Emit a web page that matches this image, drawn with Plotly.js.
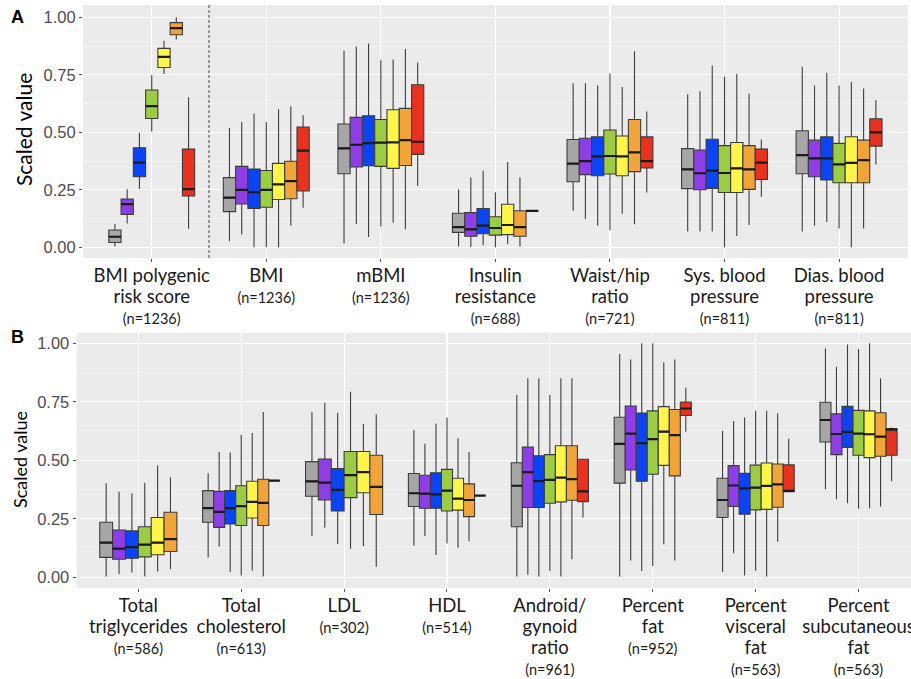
<!DOCTYPE html>
<html>
<head>
<meta charset="utf-8">
<script src="https://cdn.plot.ly/plotly-3.0.1.min.js"></script>
<style>html,body{margin:0;padding:0;background:#fff;}#chart{width:911px;height:679px;}</style>
</head>
<body>
<div id="chart"></div>
<script>
// ---------- groups ----------
const groupColors = ['#a6a6a6', '#8e3ee6', '#0a44f5', '#9ccb44', '#fdf54a', '#f0a43a', '#e6321e'];

// ---------- Panel A ----------
const catsA = ['BMI polygenic<br>risk score', 'BMI', 'mBMI', 'Insulin<br>resistance', 'Waist/hip<br>ratio', 'Sys. blood<br>pressure', 'Dias. blood<br>pressure'];
const nA = ['(n=1236)', '(n=1236)', '(n=1236)', '(n=688)', '(n=721)', '(n=811)', '(n=811)'];
// rows = categories, columns = groups (gray, purple, blue, green, yellow, orange, red)
const lowA = [
  [0.003, 0.104, 0.253, 0.503, 0.753, 0.904, 0.081],
  [0.027, 0.056, 0.000, 0.000, 0.000, 0.094, 0.172],
  [0.017, 0.101, 0.045, 0.090, 0.107, 0.078, 0.267],
  [0.004, 0.001, 0.009, 0.000, 0.014, 0.003, 0.158],
  [0.159, 0.123, 0.094, 0.074, 0.146, 0.100, 0.238],
  [0.069, 0.069, 0.069, 0.000, 0.049, 0.097, 0.220],
  [0.069, 0.094, 0.110, 0.082, 0.000, 0.082, 0.360]
];
const q1A = [
  [0.021, 0.143, 0.307, 0.560, 0.782, 0.924, 0.223],
  [0.155, 0.188, 0.169, 0.174, 0.208, 0.211, 0.245],
  [0.320, 0.349, 0.355, 0.352, 0.343, 0.356, 0.404],
  [0.065, 0.048, 0.059, 0.053, 0.055, 0.048, 0.158],
  [0.285, 0.316, 0.311, 0.319, 0.311, 0.329, 0.345],
  [0.255, 0.250, 0.256, 0.238, 0.238, 0.252, 0.295],
  [0.320, 0.307, 0.293, 0.281, 0.281, 0.281, 0.440]
];
const medA = [
  [0.046, 0.188, 0.368, 0.614, 0.828, 0.953, 0.253],
  [0.216, 0.250, 0.240, 0.250, 0.274, 0.288, 0.420],
  [0.430, 0.446, 0.453, 0.455, 0.456, 0.466, 0.459],
  [0.088, 0.078, 0.094, 0.084, 0.097, 0.088, 0.158],
  [0.364, 0.375, 0.395, 0.397, 0.395, 0.413, 0.375],
  [0.339, 0.322, 0.333, 0.323, 0.343, 0.339, 0.368],
  [0.401, 0.387, 0.387, 0.361, 0.367, 0.379, 0.500]
];
const q3A = [
  [0.075, 0.210, 0.433, 0.684, 0.865, 0.977, 0.427],
  [0.303, 0.352, 0.340, 0.334, 0.365, 0.374, 0.523],
  [0.536, 0.565, 0.572, 0.556, 0.598, 0.604, 0.707],
  [0.148, 0.151, 0.169, 0.133, 0.187, 0.159, 0.158],
  [0.469, 0.474, 0.480, 0.510, 0.484, 0.556, 0.480],
  [0.429, 0.423, 0.470, 0.442, 0.456, 0.442, 0.427],
  [0.507, 0.466, 0.480, 0.452, 0.481, 0.466, 0.559]
];
const highA = [
  [0.101, 0.252, 0.498, 0.748, 0.898, 1.000, 0.652],
  [0.519, 0.545, 0.581, 0.545, 0.600, 0.613, 0.574],
  [0.855, 0.873, 0.886, 0.813, 0.817, 0.862, 0.803],
  [0.252, 0.303, 0.333, 0.239, 0.371, 0.303, 0.158],
  [0.713, 0.713, 0.703, 0.756, 0.697, 0.852, 0.591],
  [0.666, 0.678, 0.791, 0.743, 0.753, 0.668, 0.469],
  [0.785, 0.704, 0.759, 0.704, 0.719, 0.691, 0.640]
];

// ---------- Panel B ----------
const catsB = ['Total<br>triglycerides', 'Total<br>cholesterol', 'LDL', 'HDL', 'Android/<br>gynoid<br>ratio', 'Percent<br>fat', 'Percent<br>visceral<br>fat', 'Percent<br>subcutaneous<br>fat'];
const nB = ['(n=586)', '(n=613)', '(n=302)', '(n=514)', '(n=961)', '(n=952)', '(n=563)', '(n=563)'];
const lowB = [
  [0.003, 0.014, 0.020, 0.003, 0.024, 0.034, null],
  [0.084, 0.131, 0.022, 0.007, 0.028, 0.003, 0.413],
  [0.176, 0.212, 0.142, 0.122, 0.134, 0.045, null],
  [0.136, 0.176, 0.095, 0.144, 0.126, 0.154, 0.349],
  [0.003, 0.011, 0.003, 0.027, 0.003, 0.077, 0.255],
  [0.003, 0.071, 0.027, 0.048, 0.141, 0.071, 0.622],
  [0.022, 0.102, 0.007, 0.028, 0.003, 0.152, 0.366],
  [0.376, 0.333, 0.316, 0.293, 0.295, 0.302, 0.410]
];
const q1B = [
  [0.085, 0.077, 0.081, 0.087, 0.096, 0.110, null],
  [0.235, 0.213, 0.228, 0.221, 0.253, 0.221, 0.413],
  [0.346, 0.330, 0.283, 0.340, 0.361, 0.268, null],
  [0.302, 0.295, 0.295, 0.283, 0.287, 0.259, 0.349],
  [0.216, 0.298, 0.298, 0.316, 0.322, 0.329, 0.323],
  [0.402, 0.458, 0.410, 0.440, 0.478, 0.433, 0.691],
  [0.255, 0.302, 0.269, 0.288, 0.290, 0.299, 0.366],
  [0.578, 0.524, 0.555, 0.521, 0.511, 0.517, 0.521]
];
const medB = [
  [0.148, 0.122, 0.129, 0.139, 0.148, 0.163, null],
  [0.295, 0.279, 0.295, 0.304, 0.322, 0.318, 0.413],
  [0.410, 0.404, 0.373, 0.436, 0.449, 0.386, null],
  [0.359, 0.357, 0.354, 0.370, 0.336, 0.330, 0.349],
  [0.391, 0.449, 0.411, 0.416, 0.426, 0.419, 0.367],
  [0.570, 0.614, 0.573, 0.590, 0.622, 0.607, 0.721],
  [0.330, 0.392, 0.380, 0.383, 0.390, 0.397, 0.369],
  [0.672, 0.612, 0.621, 0.614, 0.611, 0.601, 0.632]
];
const q3B = [
  [0.235, 0.202, 0.198, 0.216, 0.255, 0.278, null],
  [0.370, 0.367, 0.370, 0.391, 0.410, 0.419, 0.413],
  [0.494, 0.505, 0.464, 0.537, 0.537, 0.521, null],
  [0.443, 0.436, 0.446, 0.461, 0.423, 0.399, 0.349],
  [0.489, 0.556, 0.519, 0.524, 0.562, 0.562, 0.504],
  [0.684, 0.732, 0.702, 0.711, 0.729, 0.717, 0.749],
  [0.423, 0.477, 0.444, 0.479, 0.488, 0.484, 0.480],
  [0.748, 0.698, 0.730, 0.713, 0.711, 0.703, 0.634]
];
const highB = [
  [0.402, 0.365, 0.359, 0.404, 0.477, 0.427, null],
  [0.444, 0.535, 0.533, 0.609, 0.616, 0.706, 0.413],
  [0.706, 0.746, 0.703, 0.793, 0.655, 0.696, null],
  [0.629, 0.570, 0.656, 0.683, 0.594, 0.535, 0.349],
  [0.779, 0.850, 0.850, 0.779, 0.850, 0.850, 0.504],
  [0.954, 0.931, 1.000, 1.000, 0.919, 0.930, 0.810],
  [0.625, 0.668, 0.683, 0.711, 0.711, 0.701, 0.592],
  [0.978, 0.900, 0.995, 0.975, 1.000, 0.850, 0.640]
];

const yTickVals = [0, 0.25, 0.5, 0.75, 1];
const yTickText = ['0.00', '0.25', '0.50', '0.75', '1.00'];

// ---------- build traces (ggplot-like dodge) ----------
const traces = [];
function addPanel(low, q1, med, q3, high, xa, ya) {
  med.forEach((row, c) => {
    const present = [];
    row.forEach((v, g) => { if (v !== null) present.push(g); });
    const n = present.length;
    const w = 0.75 / n;
    present.forEach((g, j) => {
      const xc = (c + 1) + (j - (n - 1) / 2) * w;
      traces.push({
        type: 'box', x: [xc], q1: [q1[c][g]], median: [med[c][g]], q3: [q3[c][g]],
        lowerfence: [low[c][g]], upperfence: [high[c][g]],
        width: w, fillcolor: groupColors[g], line: {color: '#3d3d3d', width: 1.1},
        whiskerwidth: 0, boxpoints: false, xaxis: xa, yaxis: ya,
        showlegend: false, hoverinfo: 'skip'
      });
      traces.push({
        type: 'scatter', mode: 'lines', x: [xc - w / 2, xc + w / 2], y: [med[c][g], med[c][g]],
        line: {color: '#1a1a1a', width: 2.2}, xaxis: xa, yaxis: ya,
        showlegend: false, hoverinfo: 'skip'
      });
    });
  });
}
addPanel(lowA, q1A, medA, q3A, highA, 'x', 'y');
addPanel(lowB, q1B, medB, q3B, highB, 'x2', 'y2');

function tickTexts(cats, ns) {
  return cats.map((c, i) =>
    c.split('<br>').map(s => '<span style="font-size:18.5px">' + s + '</span>').join('<br>') +
    '<br><span style="font-size:14.5px">' + ns[i] + '</span>');
}

const W = 911, H = 679;
const xAxisBase = {
  tickmode: 'array', showgrid: true, gridcolor: '#ffffff', gridwidth: 1.1, zeroline: false,
  ticks: 'outside', ticklen: 3, tickcolor: '#555', showline: false, ticklabeloverflow: 'allow',
  tickfont: {family: 'Lato, "Open Sans", sans-serif', size: 16.3, color: '#1a1a1a'}
};
const yAxisBase = {
  tickmode: 'array', tickvals: yTickVals, ticktext: yTickText,
  showgrid: true, gridcolor: '#ffffff', gridwidth: 1.1, zeroline: false,
  ticks: 'outside', ticklen: 3, tickcolor: '#555', showline: false,
  tickfont: {family: '"Liberation Sans", Arial, sans-serif', size: 16.5, color: '#4d4d4d'},
  minor: {tickmode: 'array', tickvals: [0.125, 0.375, 0.625, 0.875], showgrid: true, gridcolor: '#f6f6f6', gridwidth: 0.6, ticks: ''}
};

const layout = {
  width: W, height: H,
  margin: {l: 0, r: 0, t: 0, b: 0},
  paper_bgcolor: '#ffffff', plot_bgcolor: '#ebebeb',
  showlegend: false,
  xaxis: Object.assign({}, xAxisBase, {
    domain: [83 / W, 907.8 / W], range: [0.4, 7.6], anchor: 'y',
    tickvals: catsA.map((_, i) => i + 1), ticktext: tickTexts(catsA, nA)
  }),
  yaxis: Object.assign({}, yAxisBase, {
    domain: [1 - 258 / H, 1 - 5 / H], range: [-0.0465, 1.0535], anchor: 'x'
  }),
  xaxis2: Object.assign({}, xAxisBase, {
    domain: [76.6 / W, 1], range: [0.4, 8.51], anchor: 'y2',
    tickvals: catsB.map((_, i) => i + 1), ticktext: tickTexts(catsB, nB)
  }),
  yaxis2: Object.assign({}, yAxisBase, {
    domain: [1 - 588 / H, 1 - 332.7 / H], range: [-0.046, 1.045], anchor: 'x2'
  }),
  shapes: [{
    type: 'line', xref: 'x', yref: 'y domain', x0: 1.5, x1: 1.5, y0: 0, y1: 1,
    line: {color: '#444', width: 1, dash: '3px,2px'}
  }],
  annotations: [
    {text: '<b>A</b>', xref: 'paper', yref: 'paper', x: 17 / W, y: 1 - 17 / H, showarrow: false,
     xanchor: 'center', yanchor: 'middle',
     font: {family: '"Liberation Sans", Arial, sans-serif', size: 18, color: '#000'}},
    {text: '<b>B</b>', xref: 'paper', yref: 'paper', x: 17 / W, y: 1 - 337 / H, showarrow: false,
     xanchor: 'center', yanchor: 'middle',
     font: {family: '"Liberation Sans", Arial, sans-serif', size: 18, color: '#000'}},
    {text: 'Scaled value', xref: 'paper', yref: 'paper', x: 23 / W, y: 1 - 130 / H, showarrow: false,
     xanchor: 'center', yanchor: 'middle',
     textangle: -90, font: {family: 'Lato, "Open Sans", sans-serif', size: 21, color: '#000'}},
    {text: 'Scaled value', xref: 'paper', yref: 'paper', x: 20 / W, y: 1 - 460 / H, showarrow: false,
     xanchor: 'center', yanchor: 'middle',
     textangle: -90, font: {family: 'Lato, "Open Sans", sans-serif', size: 18, color: '#000'}}
  ]
};

Plotly.newPlot('chart', traces, layout, {staticPlot: true, displayModeBar: false});
</script>
</body>
</html>
